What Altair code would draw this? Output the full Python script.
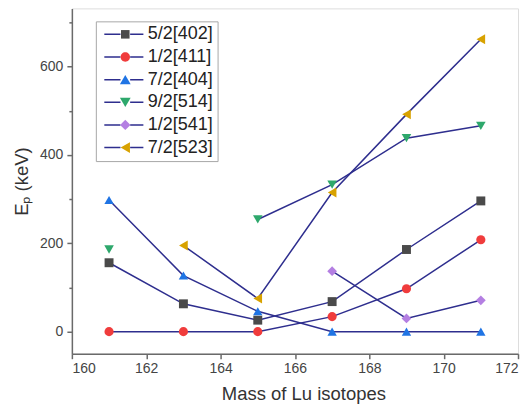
import altair as alt
import pandas as pd

# ---- data ----
masses = [161, 163, 165, 167, 169, 171]
series_names = ["5/2[402]", "1/2[411]", "7/2[404]", "9/2[514]", "1/2[541]", "7/2[523]"]
e_402 = [156, 63, 26, 68, 186, 296]
e_411 = [0, 0, 0, 34, 97, 208]
e_404 = [298, 127, 46, 0, 0, 0]
e_514 = [186, None, 254, 333, 438, 466]
e_541 = [None, None, None, 137, 30, 71]
e_523 = [None, 195, 75, 315, 492, 662]
all_values = [e_402, e_411, e_404, e_514, e_541, e_523]

x_ticks = [160, 162, 164, 166, 168, 170, 172]
y_ticks = [0, 200, 400, 600]
y_minor = [100, 300, 500, 700]

# ---- styles ----
navy = "#2e2e8e"
colors = ["#4a4a4a", "#f03c3c", "#1f74e4", "#2ea86c", "#b47fe2", "#d8a200"]
shapes = ["square", "circle", "triangle-up", "triangle-down", "diamond", "triangle-left"]
sizes = [80, 100, 125, 125, 120, 125]
legend_marker_paths = [
    "M2.72,-0.95H4.62V0.95H2.72Z",
    "M2.62,0A1.05,1.05,0,1,1,4.72,0A1.05,1.05,0,1,1,2.62,0Z",
    "M3.67,-1.04L4.87,1.04L2.47,1.04Z",
    "M3.67,1.04L4.87,-1.04L2.47,-1.04Z",
    "M2.52,0L3.67,-1.15L4.82,0L3.67,1.15Z",
    "M2.63,0L4.71,-1.2L4.71,1.2Z",
]
legend_line_path = "M-1,0H2.6M4.75,0H7.7"
FONT = "Liberation Sans, Arial, Helvetica, sans-serif"

rows = []
for name, vals in zip(series_names, all_values):
    seg = 0
    for m, v in zip(masses, vals):
        if v is None:
            seg += 1
            continue
        rows.append({"series": name, "mass": m, "ep": v, "seg": f"{name}-{seg}"})
df = pd.DataFrame(rows)

xscale = alt.Scale(domain=[160, 172], nice=False, zero=False)
yscale = alt.Scale(domain=[-50, 732], nice=False, zero=False)

common_axis = dict(
    grid=False, tickSize=5, tickWidth=1.5, tickColor="#6a6a6a",
    domainColor="#6a6a6a", domainWidth=1.5,
    labelFont=FONT, labelFontSize=14, labelColor="#444444",
    titleFont=FONT, titleFontSize=18.5, titleFontWeight="normal", titleColor="#333333",
)

x_axis = alt.Axis(values=x_ticks, format="d", title="Mass of Lu isotopes",
                  labelPadding=3, titlePadding=9, titleX=232, **common_axis)
y_axis = alt.Axis(orient="left", values=y_ticks, format="d", title="E\u209a (keV)",
                  labelPadding=4, titlePadding=8, **common_axis)
y_minor_axis = alt.Axis(orient="left", values=y_minor, labels=False, domain=False, title=None,
                        grid=False, tickSize=3, tickWidth=1.5, tickColor="#6a6a6a")

legend_common = dict(
    orient="none", legendX=24, legendY=13, title=None,
    labelFont=FONT, labelFontSize=18, labelColor="#222222",
    labelExpr="(datum.label == '5/2[402]' ? '\u00a0' : '') + datum.label + '\u00a0\u00a0'",
    symbolSize=81, padding=4, rowPadding=4.7, labelOffset=30,
)

lines = alt.Chart(df).mark_line(strokeWidth=1.5).encode(
    x=alt.X("mass:Q", scale=xscale, axis=x_axis),
    y=alt.Y("ep:Q", scale=yscale, axis=y_minor_axis),
    stroke=alt.Stroke("series:N",
                      scale=alt.Scale(domain=series_names, range=[navy] * len(series_names)),
                      legend=alt.Legend(symbolType=legend_line_path, symbolStrokeWidth=1.5,
                                        labelOpacity=0, **legend_common)),
    detail="seg:N",
)

points = alt.Chart(df).mark_point(filled=True, opacity=1).encode(
    x=alt.X("mass:Q", scale=xscale, axis=x_axis),
    y=alt.Y("ep:Q", scale=yscale, axis=y_axis),
    shape=alt.Shape("series:N", scale=alt.Scale(domain=series_names, range=shapes), legend=None),
    fill=alt.Fill("series:N", scale=alt.Scale(domain=series_names, range=colors), legend=None),
    size=alt.Size("series:N", scale=alt.Scale(domain=series_names, range=sizes), legend=None),
)

marker_legend = alt.Legend(strokeColor="#a8a8a8", **legend_common)
legend_pts = alt.Chart(df).transform_filter("datum.ep < -1000").transform_calculate(
    key="datum.series"
).mark_point(filled=True, opacity=1).encode(
    x=alt.X("mass:Q", scale=xscale, axis=x_axis),
    y=alt.Y("ep:Q", scale=yscale, axis=None),
    shape=alt.Shape("key:N", scale=alt.Scale(domain=series_names, range=legend_marker_paths),
                    legend=marker_legend),
    fill=alt.Fill("key:N", scale=alt.Scale(domain=series_names, range=colors),
                  legend=marker_legend),
)

chart = alt.layer(lines, points, legend_pts).resolve_scale(
    shape="independent", fill="independent", size="independent"
).resolve_axis(y="independent").properties(
    width=447, height=346,
    autosize=alt.AutoSizeParams(type="none"),
    padding={"left": 64, "top": 0, "right": 6, "bottom": 50},
).configure_view(stroke="#6a6a6a", strokeWidth=1.5).configure(font=FONT)

chart.save("out.html", embed_options={"renderer": "svg", "actions": False})
